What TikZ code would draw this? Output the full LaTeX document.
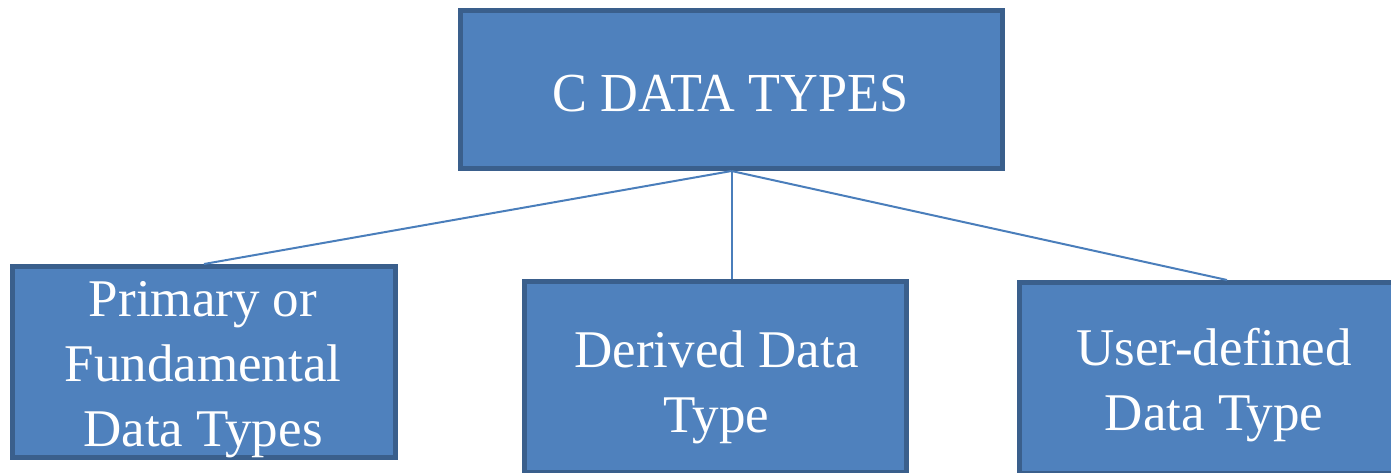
\documentclass[tikz,border=0pt]{standalone}
\usepackage{fontspec}
\setmainfont{Liberation Serif}
\usetikzlibrary{calc}
\definecolor{boxfill}{HTML}{4F81BD}
\definecolor{boxline}{HTML}{3A5F8C}
\definecolor{wire}{HTML}{4A7EBB}
\tikzset{
  box/.style={draw=boxline, fill=boxfill, line width=5pt, rectangle, inner sep=0pt},
  lbl/.style={text=white, align=center, inner sep=0pt, anchor=base,
    font=\fontsize{53}{65}\selectfont},
  toplbl/.style={text=white, inner sep=0pt, anchor=base, xscale=0.95,
    font=\fontsize{55}{66}\selectfont},
  wire/.style={draw=wire, line width=2pt}
}
\begin{document}
\begin{tikzpicture}[x=1pt, y=-1pt]
  \useasboundingbox (0,0) rectangle (1391,472);
  \begin{scope}
    \clip (0,0) rectangle (1391,472);
    % root and its three children
    \node[box, minimum width=542pt, minimum height=158pt] (root) at (731.5,89.5) {};
    \node[box, minimum width=383pt, minimum height=191pt] (prim) at (204,362) {};
    \node[box, minimum width=382pt, minimum height=191pt] (deriv) at (715.5,377) {};
    \node[box, minimum width=390pt, minimum height=191pt] (user) at (1214,378) {};
    % connectors
    \draw[wire] (root.south) -- (prim.north);
    \draw[wire] (root.south) -- (root.south |- deriv.north);
    \draw[wire] (root.south) -- ([xshift=13pt]user.north);
    % labels (anchored at the baseline of the last line)
    \node[toplbl] (rootText) at (730.5,111) {C DATA TYPES};
    \node[lbl] (primText) at (203,446) {Primary or\\Fundamental\\Data Types};
    \node[lbl] (derivText) at (716.5,432) {Derived Data\\Type};
    \node[lbl] (userText) at (1214,430) {User-defined\\Data Type};
  \end{scope}
\end{tikzpicture}
\end{document}
